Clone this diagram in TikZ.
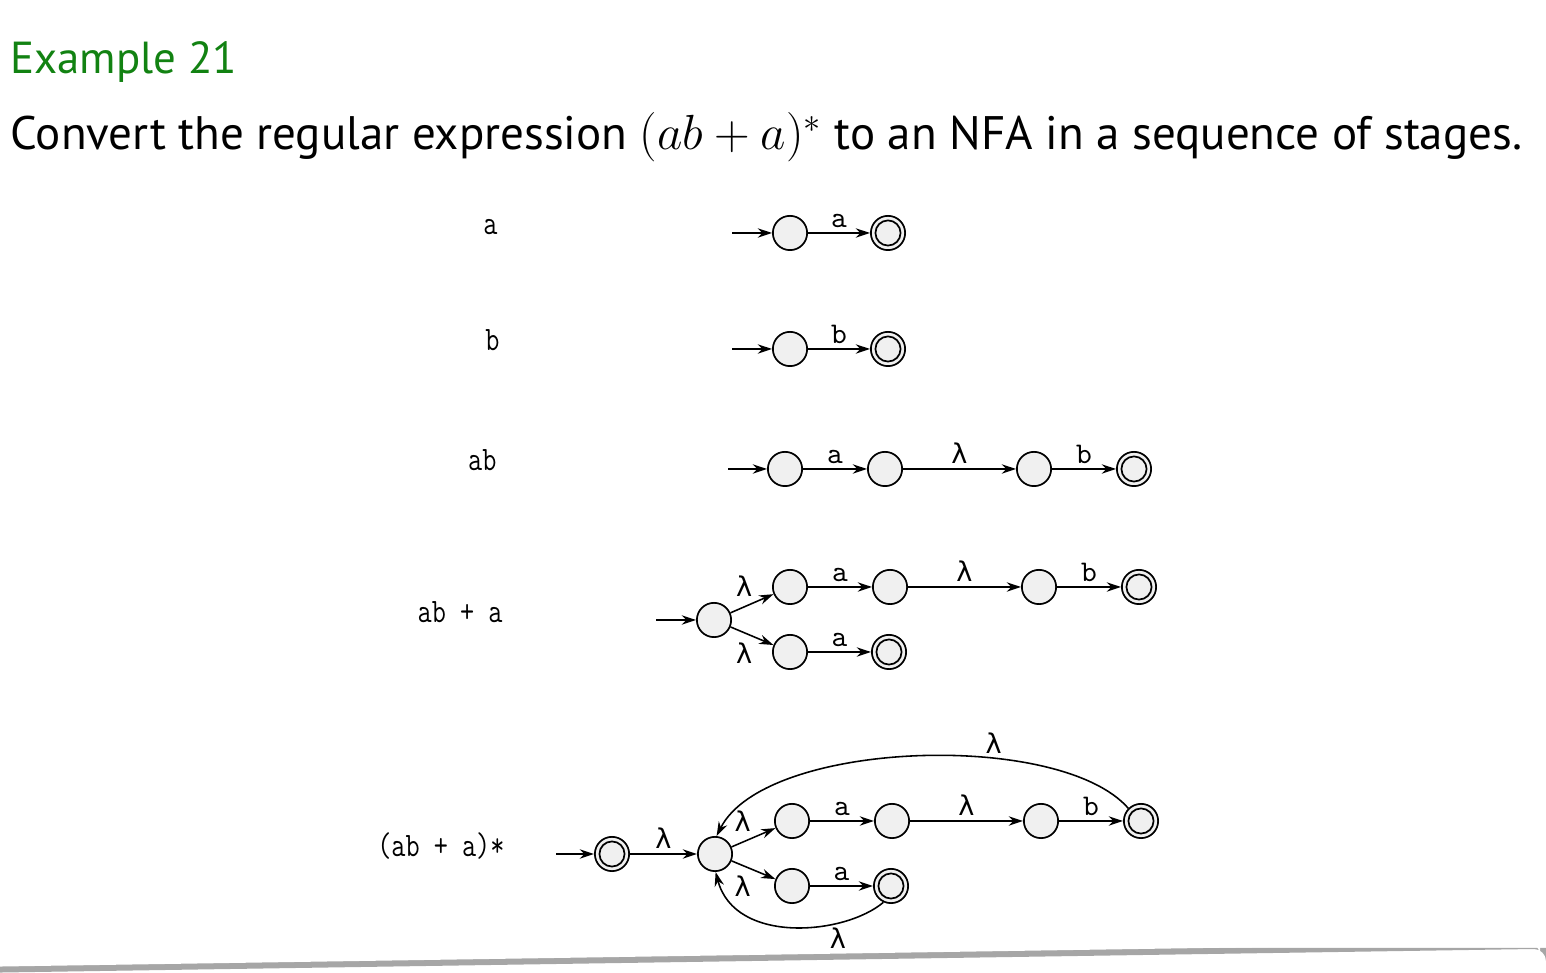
\documentclass[tikz,border=0pt]{standalone}
\usepackage{fontspec}
\setmainfont{PT Sans}
\newfontfamily\lamfont{DejaVu Sans}
\usetikzlibrary{arrows.meta}
\definecolor{exgreen}{RGB}{18,130,18}
\newcommand{\lam}{{\lamfont\fontsize{9.5}{11}\selectfont λ}}
\newcommand{\rowtext}[1]{\scalebox{0.8}[1]{#1}}
\tikzset{
	statenode/.style={circle,draw,line width=0.6pt,fill=gray!12,minimum size=12pt,inner sep=0pt},
	acceptnode/.style={statenode,path picture={\draw[line width=0.6pt] (path picture bounding box.center) circle (4.4pt);}},
	trans/.style={line width=0.55pt,-{Stealth[length=5pt,width=3.3pt]}},
	lab/.style={font=\fontsize{10.5}{12}\ttfamily,inner sep=1.5pt},
	rowlab/.style={font=\fontsize{12}{14}\ttfamily,inner sep=0pt,anchor=base east}
}

\begin{document}
\begin{tikzpicture}[x=0.35pt,y=-0.35pt]
	\useasboundingbox (0,0) rectangle (1546,973);
	% box edge
	\fill[gray!70] (-30,948) -- (1546,948) -- (1546,961) arc (0:-90:12) -- (-30,973) -- cycle;
	\fill[white] (-30,930) -- (1540,930) -- (1540,955) arc (0:-90:12) -- (-30,967) -- cycle;
	% heading
	\node[anchor=base west,inner sep=0pt,text=exgreen,font=\fontsize{15.7}{18}\selectfont] (title) at (10,74) {Example 21};
	\node[anchor=base west,inner sep=0pt,font=\fontsize{16.45}{19}\selectfont] (task) at (10,150) {Convert the regular expression $(ab+a)^*$ to an NFA in a sequence of stages.};
	% a
	\node[rowlab] (la) at (498,235) {\rowtext{a}};
	\coordinate (ia) at (732,233);
	\node[statenode] (a0) at (790,233) {};
	\node[acceptnode] (a1) at (888,233) {};
	\draw[trans] (ia) -- (a0);
	\draw[trans] (a0) -- node[lab,above]{a} (a1);
	% b
	\node[rowlab] (lb) at (500,351) {\rowtext{b}};
	\coordinate (ib) at (732,349);
	\node[statenode] (b0) at (790,349) {};
	\node[acceptnode] (b1) at (888,349) {};
	\draw[trans] (ib) -- (b0);
	\draw[trans] (b0) -- node[lab,above]{b} (b1);
	% ab
	\node[rowlab] (lab) at (497,471) {\rowtext{ab}};
	\coordinate (ic) at (728,469);
	\node[statenode] (c0) at (785,469) {};
	\node[statenode] (c1) at (885,469) {};
	\node[statenode] (c2) at (1034,469) {};
	\node[acceptnode] (c3) at (1134,469) {};
	\draw[trans] (ic) -- (c0);
	\draw[trans] (c0) -- node[lab,above]{a} (c1);
	\draw[trans] (c1) -- node[lab,above]{\lam} (c2);
	\draw[trans] (c2) -- node[lab,above]{b} (c3);
	% ab + a
	\node[rowlab] (lsum) at (503,623) {\rowtext{ab + a}};
	\coordinate (id) at (656,620);
	\node[statenode] (d0) at (714,620) {};
	\node[statenode] (d1) at (790,587) {};
	\node[statenode] (d2) at (890,587) {};
	\node[statenode] (d3) at (1039,587) {};
	\node[acceptnode] (d4) at (1139,587) {};
	\node[statenode] (d5) at (790,652) {};
	\node[acceptnode] (d6) at (889,652) {};
	\draw[trans] (id) -- (d0);
	\draw[trans] (d0) -- node[lab,pos=0.62,above left]{\lam} (d1);
	\draw[trans] (d0) -- node[lab,pos=0.62,below left]{\lam} (d5);
	\draw[trans] (d1) -- node[lab,above]{a} (d2);
	\draw[trans] (d2) -- node[lab,above]{\lam} (d3);
	\draw[trans] (d3) -- node[lab,above]{b} (d4);
	\draw[trans] (d5) -- node[lab,above]{a} (d6);
	% (ab + a)*
	\node[rowlab] (lstar) at (505,857) {\rowtext{(ab + a)*}};
	\coordinate (ie) at (556,854);
	\node[acceptnode] (e0) at (612,854) {};
	\node[statenode] (e1) at (715,854) {};
	\node[statenode] (e2) at (792,821) {};
	\node[statenode] (e3) at (892,821) {};
	\node[statenode] (e4) at (1041,821) {};
	\node[acceptnode] (e5) at (1141,821) {};
	\node[statenode] (e6) at (792,886) {};
	\node[acceptnode] (e7) at (891,886) {};
	\draw[trans] (ie) -- (e0);
	\draw[trans] (e0) -- node[lab,above]{\lam} (e1);
	\draw[trans] (e1) -- node[lab,pos=0.55,above left]{\lam} (e2);
	\draw[trans] (e1) -- node[lab,pos=0.55,below left]{\lam} (e6);
	\draw[trans] (e2) -- node[lab,above]{a} (e3);
	\draw[trans] (e3) -- node[lab,above]{\lam} (e4);
	\draw[trans] (e4) -- node[lab,above]{b} (e5);
	\draw[trans] (e6) -- node[lab,above]{a} (e7);
	\draw[trans] (e5.135) .. controls (1060,730) and (765,740) .. node[lab,pos=0.35,above]{\lam} (e1.85);
	\draw[trans] (e7.245) .. controls (845,935) and (735,945) .. node[lab,pos=0.28,below]{\lam} (e1.-88);
\end{tikzpicture}
\end{document}
